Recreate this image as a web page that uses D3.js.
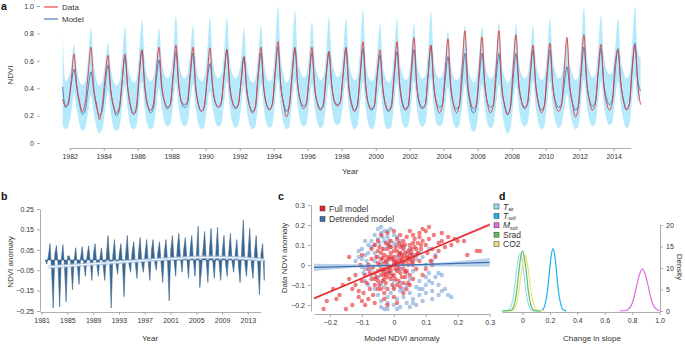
<!DOCTYPE html>
<html>
<head>
<meta charset="utf-8">
<script src="https://d3js.org/d3.v7.min.js"></script>
<style>
  body { margin: 0; background: #fff; }
  svg { font-family: "Liberation Sans", Arial, sans-serif; }
  .tick text { fill: #333; font-size: 7px; }
  .tick line, .domain { stroke: #999; stroke-width: 0.8; }
  .ttl { fill: #333; font-size: 8px; }
  .lab { font-weight: bold; font-size: 10.5px; fill: #111; }
</style>
</head>
<body>
<svg id="fig" width="685" height="344"></svg>
<script>
// ---- panel a: NDVI, six readings a year from Aug 1981 (Feb, Apr, Jun, Aug, Oct, Dec)
const aStart = 1981 + 7 / 12;
const ndviData = [
  .32, .27, .30,
  .45, .65, .42, .30, .23, .30,
  .50, .70, .40, .28, .17, .28,
  .48, .64, .38, .27, .22, .26,
  .45, .65, .40, .27, .21, .26,
  .50, .68, .40, .27, .24, .28,
  .50, .70, .42, .30, .25, .28,
  .50, .715, .42, .30, .28, .30,
  .50, .70, .40, .28, .23, .27,
  .48, .695, .40, .29, .26, .30,
  .50, .68, .40, .30, .25, .28,
  .45, .63, .38, .27, .22, .26,
  .50, .70, .40, .28, .24, .28,
  .52, .74, .42, .28, .19, .27,
  .50, .70, .42, .30, .25, .28,
  .48, .70, .40, .28, .24, .28,
  .50, .67, .42, .30, .27, .30,
  .50, .70, .40, .28, .23, .27,
  .50, .74, .42, .28, .25, .27,
  .50, .68, .40, .28, .24, .27,
  .50, .74, .42, .28, .24, .27,
  .52, .77, .42, .28, .25, .28,
  .50, .715, .42, .28, .22, .27,
  .52, .76, .42, .28, .22, .27,
  .55, .82, .44, .30, .25, .28,
  .52, .775, .44, .28, .22, .27,
  .55, .82, .42, .28, .205, .26,
  .55, .79, .44, .30, .25, .28,
  .50, .715, .42, .28, .22, .27,
  .52, .73, .42, .28, .23, .27,
  .52, .77, .42, .28, .19, .26,
  .55, .79, .44, .30, .24, .28,
  .52, .72, .42, .29, .24, .30,
  .58, .68, .44, .30, .24, .28,
  .55, .715, .42, .28
];
const ndviModel = [
  .41, .26, .28,
  .42, .54, .40, .28, .21, .24,
  .40, .52, .38, .26, .20, .24,
  .42, .57, .38, .26, .20, .24,
  .45, .63, .40, .26, .21, .24,
  .48, .68, .42, .28, .22, .25,
  .45, .605, .40, .30, .26, .28,
  .48, .665, .42, .29, .26, .28,
  .48, .655, .40, .27, .23, .26,
  .45, .58, .40, .29, .26, .29,
  .50, .685, .42, .29, .26, .28,
  .46, .63, .40, .27, .23, .26,
  .48, .655, .40, .28, .25, .28,
  .50, .70, .42, .29, .23, .27,
  .50, .69, .42, .30, .27, .29,
  .48, .655, .40, .29, .25, .27,
  .48, .66, .42, .30, .28, .30,
  .50, .69, .42, .29, .24, .27,
  .48, .69, .40, .28, .24, .27,
  .47, .64, .40, .27, .23, .26,
  .48, .667, .42, .29, .25, .27,
  .48, .68, .42, .29, .26, .28,
  .50, .715, .42, .29, .26, .28,
  .46, .63, .40, .28, .25, .27,
  .47, .655, .40, .27, .22, .26,
  .47, .655, .42, .29, .26, .28,
  .47, .655, .40, .27, .21, .25,
  .47, .655, .42, .30, .26, .28,
  .48, .68, .42, .29, .24, .27,
  .48, .68, .42, .30, .26, .28,
  .42, .557, .40, .29, .24, .27,
  .50, .70, .44, .31, .27, .30,
  .50, .69, .44, .32, .28, .31,
  .52, .69, .44, .31, .25, .28,
  .52, .73, .46, .38
];
const bandHi = [
  .80, .45, .48,
  .55, .72, .55, .45, .42, .45,
  .62, .84, .58, .46, .42, .45,
  .58, .73, .55, .45, .42, .45,
  .62, .85, .58, .48, .44, .46,
  .65, .90, .60, .48, .45, .48,
  .62, .84, .60, .50, .47, .50,
  .65, .93, .62, .50, .47, .50,
  .65, .86, .60, .48, .45, .48,
  .65, .92, .60, .50, .47, .50,
  .66, .92, .60, .50, .47, .50,
  .62, .84, .58, .48, .44, .47,
  .64, .86, .60, .48, .45, .48,
  .68, 1.0, .62, .50, .44, .47,
  .68, .97, .62, .52, .48, .50,
  .64, .885, .60, .50, .46, .48,
  .65, .92, .62, .52, .48, .50,
  .66, .91, .62, .50, .46, .48,
  .68, .98, .60, .48, .45, .48,
  .64, .87, .58, .48, .44, .47,
  .66, .91, .60, .50, .46, .48,
  .64, .87, .60, .50, .47, .49,
  .68, .96, .62, .50, .47, .49,
  .62, .82, .58, .48, .46, .48,
  .64, .86, .58, .48, .44, .47,
  .64, .85, .60, .50, .47, .49,
  .64, .88, .58, .48, .44, .47,
  .64, .87, .60, .50, .47, .49,
  .64, .86, .60, .50, .46, .48,
  .66, .91, .62, .52, .47, .49,
  .60, .78, .58, .50, .46, .48,
  .70, .99, .64, .52, .48, .50,
  .68, .93, .64, .54, .50, .52,
  .68, .91, .62, .52, .47, .50,
  .72, 1.0, .66, .62
];
const bandLo = [
  .13, .10, .12,
  .22, .36, .24, .13, .09, .11,
  .22, .35, .22, .11, .07, .10,
  .24, .38, .22, .11, .09, .11,
  .26, .42, .24, .12, .10, .12,
  .28, .45, .25, .13, .10, .12,
  .26, .40, .26, .15, .12, .14,
  .28, .44, .26, .15, .12, .14,
  .28, .43, .25, .13, .10, .12,
  .26, .38, .25, .15, .12, .14,
  .30, .45, .26, .14, .11, .13,
  .26, .42, .24, .13, .10, .12,
  .28, .43, .25, .14, .11, .13,
  .30, .46, .26, .14, .10, .12,
  .30, .45, .26, .15, .12, .14,
  .28, .43, .25, .14, .11, .13,
  .28, .43, .26, .15, .13, .15,
  .30, .45, .26, .14, .10, .12,
  .28, .45, .25, .13, .10, .12,
  .27, .42, .24, .12, .10, .12,
  .28, .44, .26, .14, .11, .13,
  .28, .45, .26, .14, .12, .14,
  .30, .47, .26, .14, .12, .14,
  .26, .41, .25, .14, .11, .13,
  .27, .43, .24, .12, .08, .11,
  .27, .43, .26, .14, .11, .13,
  .27, .43, .24, .12, .07, .10,
  .27, .43, .26, .15, .12, .14,
  .28, .45, .26, .14, .10, .12,
  .28, .45, .26, .15, .11, .13,
  .24, .36, .24, .14, .10, .12,
  .30, .46, .28, .16, .12, .14,
  .30, .45, .28, .17, .13, .15,
  .32, .45, .28, .16, .11, .13,
  .32, .48, .30, .36
];
const aTicksY = [0, 0.2, 0.4, 0.6, 0.8, 1.0];
const aTicksX = d3.range(1982, 2015, 2);

// ---- panel b: NDVI anomaly, four readings a year from Jul 1981
const bStart = 1981.55;
const anomaly = [
  0.0, -0.02,
  0.02, 0.08, -0.05, -0.235,
  0.03, 0.07, -0.02, -0.23,
  0.0, 0.075, -0.03, -0.205,
  0.02, 0.02, -0.02, -0.145,
  0.0, 0.06, -0.03, -0.12,
  0.01, 0.065, -0.02, -0.08,
  0.02, 0.07, -0.01, -0.10,
  0.03, 0.08, -0.02, -0.08,
  0.01, 0.06, -0.03, -0.10,
  0.02, 0.12, 0.0, -0.235,
  0.02, 0.10, -0.02, -0.07,
  0.03, 0.08, -0.02, -0.18,
  0.03, 0.12, -0.02, -0.06,
  0.04, 0.09, -0.02, -0.09,
  0.04, 0.11, -0.02, -0.06,
  0.03, 0.10, -0.01, -0.10,
  0.05, 0.10, -0.01, -0.05,
  0.04, 0.09, -0.02, -0.11,
  0.04, 0.10, -0.01, -0.20,
  0.05, 0.12, 0.0, -0.08,
  0.06, 0.13, 0.01, -0.06,
  0.05, 0.11, 0.0, -0.09,
  0.05, 0.12, 0.0, -0.08,
  0.04, 0.165, -0.135, -0.05,
  0.05, 0.14, 0.0, -0.11,
  0.05, 0.155, 0.0, -0.09,
  0.04, 0.16, -0.02, -0.10,
  0.04, 0.12, -0.02, -0.08,
  0.04, 0.13, -0.01, -0.06,
  0.03, 0.10, -0.03, -0.11,
  0.05, 0.195, -0.02, -0.08,
  0.04, 0.155, -0.02, -0.09,
  0.04, 0.12, -0.02, -0.17,
  0.03, 0.08, -0.10
];
const trendYears = [1982, 1986, 1990, 1994, 1998, 2002, 2006, 2010, 2015.5];
const trendVals = [-0.034, -0.026, -0.017, -0.008, 0.0, 0.008, 0.013, 0.012, 0.0];
const bTicksY = [-0.25, -0.15, -0.05, 0.05, 0.15, 0.25];
const bTicksX = d3.range(1981, 2014, 4);

// ---- panel c: model vs data anomaly
const fullPts = [
  [-0.05,-0.08],[-0.04,-0.05],[-0.03,-0.02],[-0.02,0.0],[-0.01,-0.03],[0.0,0.02],[0.01,0.0],[0.02,0.03],[0.03,0.01],[0.04,0.04],
  [-0.06,-0.04],[-0.05,0.01],[-0.04,0.03],[-0.03,0.05],[-0.02,-0.06],[-0.01,0.06],[0.0,-0.05],[0.01,0.07],[0.02,-0.04],[0.03,0.08],
  [-0.045,-0.1],[-0.035,0.08],[-0.025,-0.09],[-0.015,0.1],[-0.005,-0.1],[0.005,0.09],[0.015,-0.08],[0.025,0.1],[0.035,-0.06],[0.045,0.07],
  [-0.055,0.04],[-0.035,-0.03],[-0.015,0.03],[0.005,-0.02],[0.025,0.05],[0.045,0.0],[0.055,0.06],[0.06,0.02],[-0.06,-0.1],[-0.02,0.08],
  [-0.04,-0.12],[-0.03,-0.14],[0.0,-0.12],[0.02,-0.11],[-0.01,0.12],[0.01,0.13],[0.03,0.12],[0.05,0.1],[-0.05,0.07],[0.04,-0.03],
  [0.065,0.09],[0.07,0.05],[0.075,0.11],[0.08,0.02],[0.085,0.08],[0.09,0.12],[0.07,-0.02],[0.08,0.14],[0.06,-0.07],[0.065,0.13],
  [-0.07,-0.07],[-0.075,-0.12],[-0.08,-0.02],[-0.085,-0.09],[-0.09,-0.05],[-0.07,0.03],[-0.065,-0.15],[-0.08,0.0],[-0.095,-0.14],[-0.1,-0.08],
  [0.1,0.1],[0.105,0.06],[0.11,0.13],[0.12,0.08],[0.125,0.15],[0.13,0.04],[0.11,0.19],[0.09,0.18],[0.1,0.17],[0.14,0.11],
  [0.15,0.12],[0.16,0.09],[0.17,0.14],[0.18,0.1],[0.19,0.13],[0.2,0.12],[0.22,0.12],[0.23,0.05],[0.26,0.07],[0.27,0.07],
  [0.115,0.02],[0.1,-0.02],[0.12,0.0],[0.09,-0.05],[0.14,0.07],[0.15,0.16],[0.08,0.16],[0.06,0.15],[0.05,0.17],[0.04,0.14],
  [-0.11,-0.13],[-0.12,-0.05],[-0.14,0.04],[-0.1,0.05],[-0.13,-0.2],[-0.15,-0.22],[-0.17,-0.15],[-0.19,-0.12],[-0.21,-0.18],[-0.22,-0.22],
  [-0.12,-0.1],[-0.11,-0.16],[-0.13,-0.12],[-0.14,-0.07],[-0.1,-0.18],[-0.09,-0.2],[-0.08,-0.17],[-0.16,-0.1],[-0.18,-0.17],[-0.105,0.0],
  [-0.06,0.1],[-0.05,0.12],[-0.04,0.15],[-0.07,0.08],[-0.02,0.16],[0.0,0.17],[0.02,0.15],[-0.03,-0.17],[0.0,-0.16],[0.03,-0.14],
  [0.05,-0.1],[0.04,-0.12],[-0.06,-0.19],[0.01,-0.19],[-0.02,-0.2],[0.06,0.0],[0.05,0.03],[-0.01,0.04],[0.0,0.07],[-0.03,-0.07],
  [-0.02,-0.03],[-0.01,-0.01],[0.0,0.0],[0.01,0.02],[0.02,0.01],[-0.03,0.01],[-0.02,0.04],[0.0,0.04],[0.02,0.06],[0.03,0.04],
  [-0.04,-0.02],[-0.03,-0.05],[-0.01,-0.07],[0.01,-0.03],[0.03,-0.02],[0.04,0.02],[0.05,0.05],[0.02,0.09],[-0.01,0.09],[-0.04,0.06],
  [-0.05,-0.03],[-0.06,-0.07],[-0.05,-0.12],[-0.02,-0.12],[0.01,-0.1],[0.03,-0.09],[0.05,-0.05],[0.06,0.04],[0.07,0.08],[0.06,0.11],
  [-0.025,0.02],[-0.005,0.03],[0.015,0.05],[0.035,0.06],[-0.045,0.0],[-0.015,-0.04],[0.005,-0.07],[0.025,-0.06],[0.045,-0.09],[-0.035,-0.08],
  [-0.055,-0.06],[-0.065,-0.01],[-0.075,-0.04],[-0.045,0.09],[-0.025,0.11],[0.015,0.11],[0.035,0.1],[0.055,0.08],[0.075,0.06],[0.085,0.1],
  [-0.015,-0.015],[0.005,0.015],[0.025,0.025],[-0.035,0.035],[0.045,0.035],[-0.005,-0.055],[0.015,-0.015],[-0.025,-0.045],[0.035,-0.035],[0.055,0.015]
];
const detrendPts = [
  [-0.05,0.18],[-0.04,0.19],[-0.03,0.17],[-0.06,0.15],[-0.02,0.14],[-0.05,0.13],[-0.07,0.12],[-0.03,0.12],[0.0,0.15],[-0.01,0.18],
  [-0.08,0.1],[-0.1,0.08],[-0.09,0.05],[-0.11,0.04],[-0.085,0.02],[-0.1,-0.01],[-0.095,-0.04],[-0.12,0.02],[-0.06,0.06],[-0.07,0.09],
  [-0.05,-0.15],[-0.04,-0.18],[-0.03,-0.22],[-0.02,-0.19],[0.0,-0.2],[0.01,-0.17],[0.02,-0.21],[0.03,-0.16],[0.04,-0.19],[0.05,-0.14],
  [0.06,-0.17],[0.07,-0.2],[0.08,-0.15],[0.09,-0.12],[0.1,-0.1],[0.11,-0.08],[0.12,-0.13],[0.13,-0.06],[0.14,-0.1],[0.15,-0.05],
  [0.16,-0.12],[0.17,-0.15],[0.11,-0.04],[0.1,0.0],[0.12,0.02],[0.09,0.04],[0.13,0.05],[0.1,-0.06],[0.08,-0.08],[0.07,-0.11],
  [-0.07,-0.05],[-0.08,-0.1],[-0.06,-0.12],[-0.09,-0.08],[-0.05,-0.06],[-0.04,-0.09],[-0.07,-0.02],[-0.08,0.0],[-0.06,0.02],[-0.05,0.04],
  [-0.03,0.08],[-0.02,0.1],[-0.01,0.09],[0.0,0.11],[0.01,0.1],[0.02,0.12],[0.03,0.09],[0.04,0.06],[0.05,0.08],[0.06,0.05],
  [0.07,0.03],[0.08,0.06],[0.06,-0.03],[0.05,-0.07],[0.04,-0.1],[0.03,-0.12],[0.02,-0.13],[0.0,-0.11],[-0.01,-0.14],[-0.03,-0.11],
  [0.0,0.0],[0.02,-0.02],[-0.02,0.02],[0.01,0.04],[-0.01,-0.04],[0.03,0.0],[-0.04,0.01],[0.04,-0.04],[-0.03,-0.03],[0.02,0.06],
  [0.15,-0.13],[0.14,-0.15],[0.18,-0.16],[0.12,-0.17],[-0.02,-0.22],[0.05,-0.21],[0.09,-0.18],[-0.09,0.12],[-0.11,0.07],[0.11,0.08],
  [-0.04,0.16],[-0.02,0.17],[-0.035,0.14],[-0.015,0.12],[0.01,0.14],[-0.06,0.1],[-0.045,0.11],[0.0,-0.08],[0.02,-0.09],[-0.02,-0.16],
  [0.01,-0.22],[-0.04,-0.21],[0.06,-0.19],[0.08,-0.12],[0.1,-0.14],[0.12,-0.09],[0.14,-0.04],[-0.09,-0.02],[-0.1,0.03],[-0.08,0.06]
];
// regression fits (x, fit, CI half width)
const fitX = [-0.25, 0.0, 0.3];
const fullFit = [-0.167, 0.0, 0.202];
const fullCI = [0.007, 0.003, 0.008];
const detrFit = [-0.012, -0.002, 0.013];
const detrCI = [0.018, 0.004, 0.022];
const cTicks = [-0.2, -0.1, 0, 0.1, 0.2, 0.3];

// ---- panel d: change in slope densities
const densNames = ["air", "soil", "msoil", "Srad", "CO2"];
const densColors = ["#93e3ee", "#1ab4ef", "#e06be6", "#62bd5e", "#efe07a"];
const tairX = [-0.15, -0.107, -0.092, -0.077, -0.062, -0.048, -0.033, -0.018, -0.003, 0.012, 0.026, 0.041, 0.056, 0.071, 0.12];
const tairY = [0, 0.15, 0.6, 1.8, 4.3, 8.2, 11.9, 13.5, 11.9, 8.2, 4.3, 1.8, 0.6, 0.15, 0];
const tsoilX = [0.12, 0.141, 0.155, 0.168, 0.182, 0.195, 0.209, 0.222, 0.236, 0.249, 0.262, 0.276, 0.289, 0.303, 0.32];
const tsoilY = [0, 0.16, 0.64, 2.0, 4.7, 8.8, 12.8, 14.5, 12.8, 8.8, 4.7, 2.0, 0.64, 0.16, 0];
const msoilX = [0.71, 0.753, 0.773, 0.794, 0.814, 0.834, 0.855, 0.875, 0.895, 0.916, 0.936, 0.956, 0.977, 1.0];
const msoilY = [0, 0.11, 0.43, 1.3, 3.2, 6.0, 8.6, 9.8, 8.6, 6.0, 3.2, 1.3, 0.43, 0.08];
const sradX = [-0.15, -0.086, -0.071, -0.057, -0.043, -0.029, -0.014, 0, 0.014, 0.029, 0.043, 0.057, 0.071, 0.086, 0.13];
const sradY = [0, 0.16, 0.6, 1.9, 4.5, 8.5, 12.4, 14, 12.4, 8.5, 4.5, 1.9, 0.6, 0.16, 0];
const co2X = [-0.12, -0.074, -0.059, -0.043, -0.028, -0.013, 0.003, 0.018, 0.033, 0.049, 0.064, 0.079, 0.095, 0.11, 0.16];
const co2Y = [0, 0.14, 0.57, 1.76, 4.2, 7.9, 11.5, 13, 11.5, 7.9, 4.2, 1.76, 0.57, 0.14, 0];
const dTicksX = [0, 0.2, 0.4, 0.6, 0.8, 1.0];
const dTicksY = [0, 5, 10, 15, 20];

const svg = d3.select("#fig");
const f1 = d => d === 0 ? "0" : d3.format(".1f")(d);

// ================= a
const tA = ndviData.map((d, i) => aStart + i / 6);
const xA = d3.scaleLinear().domain([1982, 2015]).range([69.7, 630.7]);
const yA = d3.scaleLinear().domain([0, 1]).range([143, 6]);

svg.append("path")
  .datum(bandHi)
  .attr("d", d3.area().x((d, i) => xA(tA[i])).y0((d, i) => yA(bandLo[i])).y1(d => yA(d)).curve(d3.curveMonotoneX))
  .attr("fill", "#b4eafb");

svg.append("path")
  .datum(ndviModel)
  .attr("d", d3.line().x((d, i) => xA(tA[i])).y(d => yA(d)).curve(d3.curveMonotoneX))
  .attr("fill", "none").attr("stroke", "#4f7fbb").attr("stroke-width", 1);

svg.append("path")
  .datum(ndviData)
  .attr("d", d3.line().x((d, i) => xA(tA[i])).y(d => yA(d)).curve(d3.curveMonotoneX))
  .attr("fill", "none").attr("stroke", "#e8393a").attr("stroke-width", 1).attr("opacity", 0.9);

svg.append("g").attr("transform", "translate(40,0)")
  .call(d3.axisLeft(yA).tickValues(aTicksY).tickFormat(f1).tickSize(3).tickPadding(3))
  .call(g => g.select(".domain").remove());
svg.append("g").attr("transform", "translate(0,148)")
  .call(d3.axisBottom(xA).tickValues(aTicksX).tickFormat(d3.format("d")).tickSize(3).tickSizeOuter(0).tickPadding(3));

svg.append("text").attr("class", "ttl").attr("transform", "translate(13,75) rotate(-90)").attr("text-anchor", "middle").text("NDVI");
svg.append("text").attr("class", "ttl").attr("x", 350).attr("y", 174).attr("text-anchor", "middle").text("Year");

const legA = [["Data", "#ef6f6c"], ["Model", "#6f97c9"]];
legA.forEach((d, i) => {
  svg.append("line").attr("x1", 44).attr("x2", 58).attr("y1", 7 + i * 12).attr("y2", 7 + i * 12)
    .attr("stroke", d[1]).attr("stroke-width", 1.5);
  svg.append("text").attr("class", "ttl").attr("x", 62).attr("y", 10 + i * 12).text(d[0]);
});
svg.append("text").attr("class", "lab").attr("x", 1).attr("y", 10).text("a");

// ================= b
const tB = anomaly.map((d, i) => bStart + i * 0.25);
const xB = d3.scaleLinear().domain([1980.75, 2015]).range([40, 260.7]);
const yB = d3.scaleLinear().domain([-0.25, 0.25]).range([311, 209]);

svg.append("path")
  .datum(anomaly)
  .attr("d", d3.area().x((d, i) => xB(tB[i])).y0(yB(0)).y1(d => yB(d)))
  .attr("fill", "#3a6791").attr("stroke", "#3a6791").attr("stroke-width", 0.6);

const trendLine = d3.line().x((d, i) => xB(trendYears[i])).y(d => yB(d)).curve(d3.curveMonotoneX);
svg.append("path").datum(trendVals).attr("d", trendLine)
  .attr("fill", "none").attr("stroke", "#a9c3dc").attr("stroke-width", 3.5).attr("opacity", 0.8);
svg.append("path").datum(trendVals).attr("d", trendLine)
  .attr("fill", "none").attr("stroke", "#f4f8fc").attr("stroke-width", 1.2);

svg.append("g").attr("transform", "translate(40,0)")
  .call(d3.axisLeft(yB).tickValues(bTicksY).tickFormat(d3.format(".2f")).tickSize(3).tickSizeOuter(0).tickPadding(3));
svg.append("g").attr("transform", "translate(0,312)")
  .call(d3.axisBottom(xB).tickValues(bTicksX).tickFormat(d3.format("d")).tickSize(3).tickSizeOuter(0).tickPadding(3));
svg.append("text").attr("class", "ttl").attr("transform", "translate(13,262) rotate(-90)").attr("text-anchor", "middle").text("NDVI anomaly");
svg.append("text").attr("class", "ttl").attr("x", 150).attr("y", 341).attr("text-anchor", "middle").text("Year");
svg.append("text").attr("class", "lab").attr("x", 1).attr("y", 200).text("b");

// ================= c
const xC = d3.scaleLinear().domain([-0.25, 0.3]).range([314, 489.7]);
const yC = d3.scaleLinear().domain([-0.23, 0.3]).range([311, 205]);

svg.append("g").selectAll("circle").data(detrendPts).join("circle")
  .attr("cx", d => xC(d[0])).attr("cy", d => yC(d[1])).attr("r", 2.2)
  .attr("fill", "#5d8fcf").attr("opacity", 0.5);
svg.append("g").selectAll("circle").data(fullPts).join("circle")
  .attr("cx", d => xC(d[0])).attr("cy", d => yC(d[1])).attr("r", 2.2)
  .attr("fill", "#e8262c").attr("opacity", 0.6);

const ciArea = (fit, ci) => d3.area().x((d, i) => xC(fitX[i]))
  .y0((d, i) => yC(fit[i] - ci[i])).y1((d, i) => yC(fit[i] + ci[i])).curve(d3.curveMonotoneX);
const fitLine = d3.line().x((d, i) => xC(fitX[i])).y(d => yC(d));
svg.append("path").datum(fitX).attr("d", ciArea(detrFit, detrCI)).attr("fill", "#8fb2dc").attr("opacity", 0.6);
svg.append("path").datum(detrFit).attr("d", fitLine).attr("fill", "none").attr("stroke", "#3d6fb0").attr("stroke-width", 1.4);
svg.append("path").datum(fitX).attr("d", ciArea(fullFit, fullCI)).attr("fill", "#f08a8a").attr("opacity", 0.6);
svg.append("path").datum(fullFit).attr("d", fitLine).attr("fill", "none").attr("stroke", "#e32329").attr("stroke-width", 1.4);

svg.append("g").attr("transform", "translate(311,0)")
  .call(d3.axisLeft(yC).tickValues(cTicks).tickFormat(f1).tickSize(3).tickSizeOuter(0).tickPadding(3));
svg.append("g").attr("transform", "translate(0,314)")
  .call(d3.axisBottom(xC).tickValues(cTicks).tickFormat(f1).tickSize(3).tickSizeOuter(0).tickPadding(3));
svg.append("text").attr("class", "ttl").attr("transform", "translate(287,258) rotate(-90)").attr("text-anchor", "middle").text("Data NDVI anomaly");
svg.append("text").attr("class", "ttl").attr("x", 402).attr("y", 341).attr("text-anchor", "middle").text("Model NDVI anomaly");

const legC = [["Full model", "#e8262c"], ["Detrended model", "#3d6fb0"]];
legC.forEach((d, i) => {
  svg.append("rect").attr("x", 320).attr("y", 206 + i * 10.5).attr("width", 5).attr("height", 5)
    .attr("fill", d[1]).attr("stroke", "#333").attr("stroke-width", 0.5);
  svg.append("text").attr("class", "ttl").attr("x", 329).attr("y", 211.5 + i * 10.5).style("font-size", "8.5px").text(d[0]);
});
svg.append("text").attr("class", "lab").attr("x", 278).attr("y", 200).text("c");

// ================= d
const xD = d3.scaleLinear().domain([-0.15, 1.0]).range([502, 659.5]);
const yD = d3.scaleLinear().domain([0, 20]).range([311, 225]);
const dens = [[tairX, tairY], [tsoilX, tsoilY], [msoilX, msoilY], [sradX, sradY], [co2X, co2Y]];
const drawOrder = [0, 2, 1, 4, 3];
drawOrder.forEach(k => {
  const [xs, ys] = dens[k];
  svg.append("path").datum(ys)
    .attr("d", d3.line().x((d, i) => xD(xs[i])).y(d => yD(d)).curve(d3.curveMonotoneX))
    .attr("fill", "none").attr("stroke", densColors[k]).attr("stroke-width", 1.2);
});

svg.append("g").attr("transform", "translate(0,312)")
  .call(d3.axisBottom(xD).tickValues(dTicksX).tickFormat(f1).tickSize(3).tickSizeOuter(0).tickPadding(3));
svg.append("g").attr("transform", "translate(660,0)")
  .call(d3.axisRight(yD).tickValues(dTicksY).tickSize(3).tickSizeOuter(0).tickPadding(3));
svg.append("text").attr("class", "ttl").attr("x", 592).attr("y", 341).attr("text-anchor", "middle").text("Change in slope");
svg.append("text").attr("class", "ttl").attr("transform", "translate(677,267) rotate(90)").attr("text-anchor", "middle").text("Density");

const legD = svg.append("g");
densNames.forEach((n, i) => {
  const y = 204 + i * 9.4;
  legD.append("rect").attr("x", 494).attr("y", y).attr("width", 5).attr("height", 5)
    .attr("fill", densColors[i]).attr("stroke", "#333").attr("stroke-width", 0.5);
  const t = legD.append("text").attr("class", "ttl").attr("x", 503).attr("y", y + 5.5).style("font-size", "8.5px");
  if (n === "air" || n === "soil" || n === "msoil") {
    t.append("tspan").attr("font-style", "italic").text(n === "msoil" ? "M" : "T");
    t.append("tspan").attr("font-size", "5px").attr("dy", 1.5).text(n === "air" ? "air" : "soil");
  } else {
    t.text(n);
  }
});
svg.append("text").attr("class", "lab").attr("x", 499).attr("y", 200).text("d");
</script>
</body>
</html>
